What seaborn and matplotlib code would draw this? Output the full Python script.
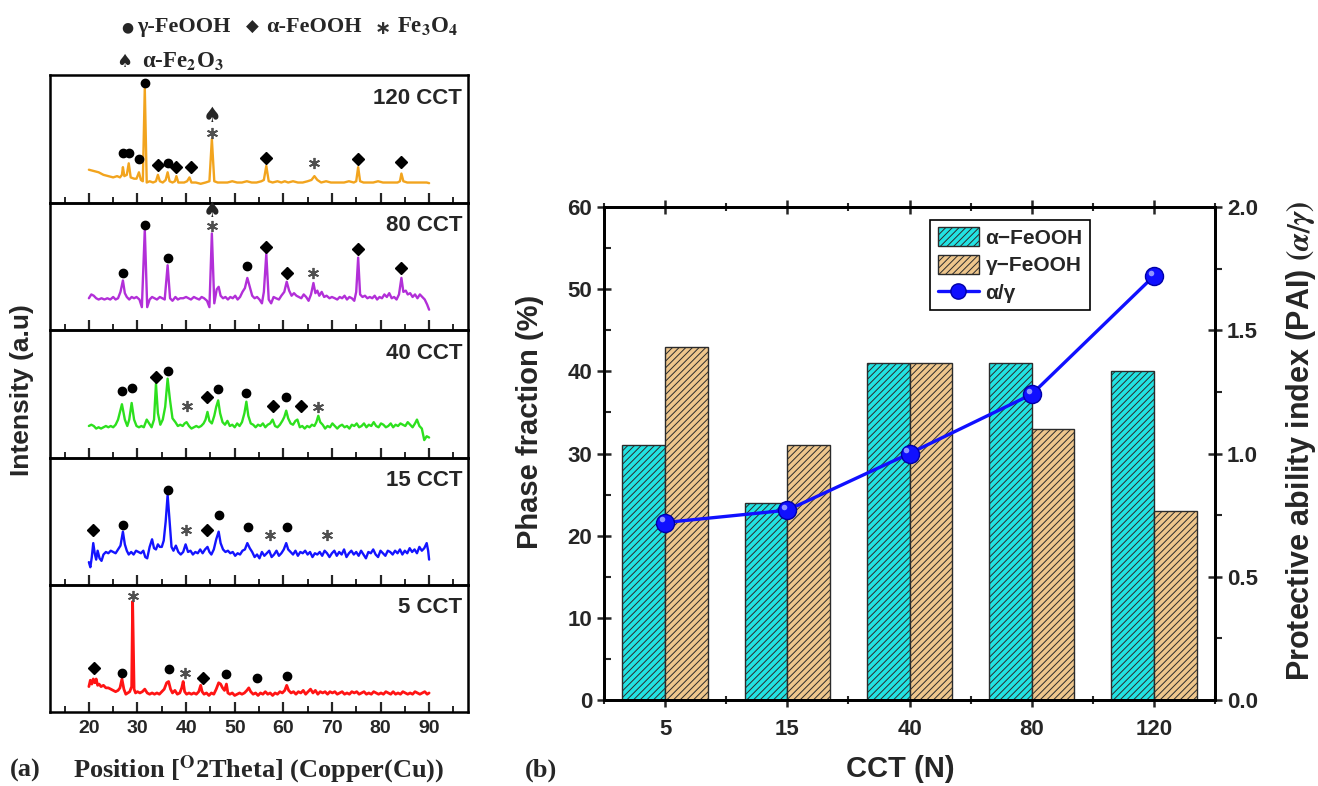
import numpy as np
import pandas as pd
import matplotlib
matplotlib.use("Agg")
import matplotlib.pyplot as plt
import seaborn as sns
from matplotlib.ticker import MultipleLocator
from matplotlib.patches import Patch
from matplotlib.lines import Line2D
from matplotlib.transforms import ScaledTranslation

# ---------------- data ----------------
# XRD patterns (2theta, relative intensity) for each exposure
xrd_120 = [(20.0, 26), (21.0, 25), (22.0, 24), (23.0, 22), (24.0, 21), (25.0, 20), (25.8, 21), (26.4, 20),
           (26.8, 22), (27.0, 28), (27.3, 21), (27.8, 22), (28.2, 31), (28.6, 20), (29.3, 19), (29.8, 19),
           (30.3, 24), (30.7, 18), (31.1, 17), (31.5, 90), (31.9, 16), (32.5, 17), (33.2, 16), (33.8, 17),
           (34.2, 22), (34.6, 17), (35.2, 16), (35.8, 18), (36.2, 24), (36.6, 17), (37.2, 16), (37.7, 17),
           (38.0, 21), (38.4, 16), (39.0, 16), (39.6, 16), (40.2, 17), (40.7, 20), (41.1, 16), (42.0, 16),
           (43.0, 15), (44.0, 16), (44.8, 17), (45.3, 50), (45.8, 17), (46.5, 16), (47.5, 16), (48.5, 16),
           (49.5, 17), (50.5, 16), (51.5, 16), (52.5, 17), (53.5, 16), (54.5, 16), (55.5, 17), (56.0, 18),
           (56.5, 29), (57.0, 17), (57.8, 16), (58.8, 17), (59.6, 16), (60.3, 17), (61.0, 16), (62.0, 17),
           (63.0, 16), (64.0, 16), (65.0, 17), (65.8, 18), (66.4, 21), (67.0, 18), (67.8, 16), (68.8, 17),
           (69.8, 16), (71.0, 16), (72.5, 16), (73.5, 17), (74.5, 16), (75.0, 17), (75.4, 28), (75.8, 17),
           (76.5, 16), (77.5, 16), (78.5, 16), (79.5, 17), (80.5, 16), (81.5, 16), (82.5, 16), (83.5, 16),
           (84.0, 17), (84.3, 23), (84.7, 17), (85.5, 16), (86.5, 16), (87.5, 16), (88.5, 16), (89.5, 16),
           (90.0, 15.5)]

xrd_80 = [(20.0, 25), (20.5, 28), (21.0, 27), (21.5, 25), (22.0, 24), (22.6, 25), (23.2, 24), (23.8, 25),
          (24.4, 24), (25.0, 26), (25.5, 24), (26.0, 25), (26.5, 30), (27.0, 39), (27.4, 29), (27.8, 26),
          (28.3, 24), (28.8, 26), (29.3, 25), (29.8, 26), (30.4, 24), (30.9, 18), (31.5, 79), (32.0, 18),
          (32.5, 24), (33.0, 26), (33.5, 25), (34.0, 24), (34.6, 26), (35.1, 25), (35.6, 24), (36.2, 51),
          (36.7, 25), (37.2, 23), (37.8, 26), (38.3, 24), (38.8, 25), (39.4, 25), (40.0, 26), (40.5, 25),
          (41.0, 24), (41.6, 26), (42.1, 25), (42.7, 24), (43.2, 26), (43.7, 25), (44.3, 23), (44.8, 18),
          (45.3, 76), (45.8, 21), (46.3, 32), (46.7, 34), (47.1, 27), (47.6, 25), (48.1, 26), (48.6, 24),
          (49.1, 26), (49.6, 25), (50.1, 27), (50.6, 24), (51.1, 26), (51.6, 30), (52.1, 33), (52.6, 41),
          (53.1, 34), (53.6, 27), (54.1, 25), (54.6, 26), (55.1, 24), (55.6, 21), (56.0, 30), (56.5, 60),
          (57.0, 24), (57.5, 21), (58.0, 26), (58.5, 25), (59.1, 24), (59.6, 27), (60.2, 30), (60.7, 38),
          (61.2, 31), (61.7, 27), (62.2, 29), (62.7, 27), (63.2, 26), (63.7, 25), (64.2, 28), (64.7, 26),
          (65.2, 23), (65.7, 28), (66.2, 37), (66.6, 29), (67.0, 31), (67.4, 27), (67.9, 30), (68.4, 26),
          (68.9, 27), (69.5, 25), (70.0, 26), (70.6, 25), (71.1, 24), (71.6, 26), (72.1, 25), (72.6, 27),
          (73.1, 24), (73.6, 26), (74.1, 25), (74.6, 23), (75.0, 30), (75.4, 57), (75.8, 28), (76.3, 26),
          (76.8, 27), (77.3, 25), (77.8, 26), (78.3, 25), (78.8, 27), (79.3, 24), (79.8, 26), (80.3, 25),
          (80.8, 28), (81.3, 26), (81.8, 29), (82.3, 25), (82.8, 26), (83.3, 24), (83.8, 28), (84.3, 41),
          (84.7, 30), (85.2, 31), (85.6, 28), (86.1, 29), (86.6, 26), (87.1, 28), (87.6, 25), (88.1, 28),
          (88.6, 26), (89.1, 24), (89.6, 20), (90.0, 16)]

xrd_40 = [(20.0, 25), (20.5, 26), (21.0, 25), (21.5, 23), (22.0, 24), (22.5, 23), (23.0, 24), (23.5, 25),
          (24.0, 24), (24.5, 25), (25.0, 24), (25.5, 26), (26.0, 30), (26.8, 42), (27.4, 30), (27.9, 25),
          (28.3, 30), (28.8, 43), (29.3, 30), (29.8, 25), (30.3, 24), (30.8, 25), (31.3, 24), (31.9, 30),
          (32.4, 27), (32.9, 24), (33.4, 30), (33.8, 58), (34.2, 35), (34.7, 26), (35.2, 30), (35.7, 40),
          (36.2, 62), (36.7, 45), (37.2, 31), (37.8, 28), (38.3, 25), (38.8, 26), (39.3, 25), (39.7, 27),
          (40.1, 28), (40.6, 25), (41.1, 23), (41.6, 24), (42.1, 25), (42.6, 24), (43.1, 25), (43.6, 27),
          (44.0, 30), (44.4, 36), (44.8, 29), (45.3, 27), (45.8, 33), (46.2, 40), (46.6, 45), (47.0, 35),
          (47.5, 28), (48.0, 26), (48.5, 29), (49.0, 25), (49.5, 26), (50.0, 24), (50.5, 27), (51.0, 25),
          (51.5, 28), (52.0, 35), (52.4, 44), (52.8, 33), (53.3, 27), (53.8, 26), (54.3, 24), (54.8, 26),
          (55.3, 25), (55.8, 27), (56.3, 24), (56.8, 26), (57.3, 27), (57.8, 30), (58.3, 25), (58.8, 24),
          (59.3, 26), (59.8, 29), (60.2, 32), (60.6, 37), (61.0, 31), (61.5, 27), (62.0, 26), (62.5, 29),
          (62.9, 30), (63.4, 24), (63.9, 25), (64.4, 23), (64.9, 25), (65.4, 24), (65.9, 26), (66.4, 25),
          (66.8, 28), (67.2, 33), (67.6, 28), (68.1, 26), (68.6, 23), (69.1, 25), (69.6, 24), (70.1, 27),
          (70.6, 25), (71.1, 23), (71.6, 25), (72.1, 26), (72.6, 24), (73.1, 25), (73.6, 23), (74.1, 26),
          (74.6, 25), (75.1, 27), (75.6, 24), (76.1, 25), (76.6, 27), (77.1, 24), (77.6, 26), (78.1, 25),
          (78.6, 28), (79.1, 25), (79.6, 24), (80.1, 27), (80.6, 26), (81.1, 24), (81.6, 25), (82.1, 27),
          (82.6, 24), (83.1, 26), (83.6, 25), (84.1, 27), (84.6, 26), (85.1, 25), (85.6, 28), (86.1, 26),
          (86.6, 24), (87.1, 27), (87.5, 30), (88.0, 25), (88.5, 23), (89.0, 14), (89.5, 17), (90.0, 16)]

xrd_15 = [(20.0, 18), (20.3, 14), (20.6, 22), (20.9, 33), (21.2, 25), (21.5, 20), (21.8, 27), (22.2, 21),
          (22.6, 19), (23.0, 24), (23.5, 26), (24.0, 25), (24.5, 27), (25.0, 26), (25.5, 25), (26.0, 28),
          (26.5, 31), (27.0, 42), (27.4, 32), (27.8, 27), (28.2, 24), (28.7, 26), (29.2, 24), (29.7, 27),
          (30.2, 26), (30.7, 25), (31.2, 27), (31.6, 22), (32.0, 21), (32.5, 30), (33.0, 36), (33.4, 29),
          (33.8, 28), (34.2, 32), (34.6, 30), (35.0, 30), (35.4, 35), (35.8, 50), (36.2, 71), (36.6, 50),
          (37.0, 30), (37.4, 27), (37.9, 31), (38.4, 26), (38.9, 24), (39.4, 26), (39.9, 32), (40.4, 26),
          (40.9, 27), (41.4, 24), (41.9, 26), (42.4, 25), (42.9, 28), (43.4, 25), (43.9, 28), (44.4, 30),
          (44.8, 26), (45.2, 24), (45.7, 28), (46.2, 36), (46.7, 42), (47.1, 33), (47.6, 28), (48.1, 26),
          (48.6, 27), (49.1, 25), (49.6, 26), (50.1, 23), (50.6, 25), (51.1, 24), (51.6, 27), (52.1, 28),
          (52.6, 33), (53.1, 29), (53.6, 26), (54.1, 22), (54.6, 24), (55.1, 21), (55.6, 26), (56.1, 23),
          (56.6, 25), (57.1, 27), (57.6, 22), (58.1, 24), (58.6, 27), (59.1, 23), (59.6, 25), (60.1, 28),
          (60.6, 33), (61.0, 28), (61.5, 26), (62.0, 24), (62.5, 27), (63.0, 23), (63.5, 26), (64.0, 25),
          (64.5, 27), (65.0, 24), (65.5, 26), (66.0, 22), (66.5, 25), (67.0, 24), (67.5, 26), (68.0, 23),
          (68.5, 27), (69.0, 25), (69.5, 22), (70.0, 25), (70.5, 27), (71.0, 23), (71.5, 26), (72.0, 24),
          (72.5, 28), (73.0, 22), (73.5, 25), (74.0, 27), (74.5, 24), (75.0, 26), (75.5, 23), (76.0, 27),
          (76.5, 24), (77.0, 21), (77.5, 26), (78.0, 25), (78.5, 28), (79.0, 24), (79.5, 22), (80.0, 27),
          (80.5, 25), (81.0, 23), (81.5, 27), (82.0, 26), (82.5, 24), (83.0, 27), (83.5, 25), (84.0, 28),
          (84.5, 24), (85.0, 27), (85.5, 25), (86.0, 29), (86.5, 26), (87.0, 28), (87.5, 25), (88.0, 30),
          (88.5, 27), (89.0, 29), (89.5, 33), (89.8, 27), (90.0, 20)]

xrd_5 = [(20.0, 20), (20.3, 25), (20.6, 22), (20.9, 26), (21.2, 23), (21.5, 26), (21.8, 21), (22.1, 22),
         (22.5, 20), (23.0, 21), (23.5, 19), (24.0, 19), (24.5, 18), (25.0, 17), (25.5, 16), (26.0, 17),
         (26.4, 19), (26.8, 26), (27.2, 18), (27.6, 14), (28.0, 15), (28.4, 16), (28.8, 20), (29.0, 87),
         (29.3, 18), (29.6, 15), (30.0, 16), (30.5, 15), (31.0, 16), (31.5, 18), (32.0, 15), (32.5, 14),
         (33.0, 15), (33.5, 14), (34.0, 15), (34.5, 14), (35.0, 16), (35.5, 18), (36.0, 23), (36.4, 24),
         (36.8, 18), (37.2, 15), (37.7, 17), (38.2, 14), (38.7, 15), (39.1, 19), (39.4, 24), (39.7, 16),
         (40.1, 14), (40.6, 15), (41.1, 14), (41.6, 15), (42.1, 14), (42.6, 16), (43.0, 21), (43.3, 16),
         (43.7, 14), (44.2, 15), (44.7, 13), (45.2, 15), (45.7, 14), (46.2, 18), (46.7, 23), (47.1, 22),
         (47.5, 19), (47.9, 17), (48.3, 22), (48.6, 15), (49.0, 14), (49.5, 15), (50.0, 13), (50.5, 14),
         (51.0, 15), (51.5, 14), (52.0, 15), (52.5, 17), (52.9, 19), (53.3, 16), (53.8, 14), (54.3, 15),
         (54.8, 13), (55.3, 15), (55.8, 14), (56.3, 16), (56.8, 14), (57.3, 15), (57.8, 13), (58.3, 15),
         (58.8, 14), (59.3, 16), (59.8, 15), (60.3, 17), (60.7, 21), (61.1, 17), (61.6, 15), (62.1, 16),
         (62.6, 14), (63.1, 16), (63.6, 15), (64.1, 17), (64.6, 14), (65.1, 16), (65.6, 18), (66.1, 15),
         (66.6, 17), (67.1, 14), (67.6, 16), (68.1, 15), (68.6, 16), (69.1, 14), (69.6, 16), (70.1, 15),
         (70.6, 16), (71.1, 14), (71.6, 15), (72.1, 16), (72.6, 14), (73.1, 15), (73.6, 14), (74.1, 16),
         (74.6, 15), (75.1, 16), (75.6, 14), (76.1, 15), (76.6, 16), (77.1, 14), (77.6, 15), (78.1, 14),
         (78.6, 16), (79.1, 15), (79.6, 14), (80.1, 15), (80.6, 14), (81.1, 16), (81.6, 15), (82.1, 14),
         (82.6, 16), (83.1, 14), (83.6, 15), (84.1, 14), (84.6, 16), (85.1, 15), (85.6, 14), (86.1, 15),
         (86.6, 14), (87.1, 16), (87.6, 15), (88.1, 14), (88.6, 15), (89.1, 16), (89.6, 14), (90.0, 15)]

# phase identification marks: (2theta, height, phase)
# g = gamma-FeOOH, a = alpha-FeOOH, m = Fe3O4, h = alpha-Fe2O3
marks_120 = [(27.0, 39, "g"), (28.2, 39, "g"), (30.3, 34, "g"), (31.5, 94, "g"), (34.2, 30, "a"),
             (36.3, 31, "g"), (37.9, 28, "a"), (41.0, 28, "a"), (45.3, 55, "m"), (45.3, 68, "h"),
             (56.5, 35, "a"), (66.4, 31, "m"), (75.4, 34, "a"), (84.3, 32, "a")]
marks_80 = [(27.0, 45, "g"), (31.5, 83, "g"), (36.2, 57, "g"), (45.3, 82, "m"), (45.3, 94, "h"),
            (52.6, 50, "g"), (56.5, 65, "a"), (60.7, 45, "a"), (66.2, 45, "m"), (75.4, 64, "a"),
            (84.3, 49, "a")]
marks_40 = [(26.8, 52, "g"), (28.8, 55, "g"), (33.8, 63, "a"), (36.2, 68, "g"), (40.1, 41, "m"),
            (44.4, 48, "a"), (46.6, 54, "g"), (52.4, 51, "g"), (57.8, 41, "a"), (60.6, 48, "g"),
            (63.7, 41, "a"), (67.2, 40, "m")]
marks_15 = [(20.8, 43, "a"), (27.0, 47, "g"), (36.2, 75, "g"), (39.9, 43, "m"), (44.4, 43, "a"),
            (46.7, 55, "g"), (52.8, 46, "g"), (57.2, 39, "m"), (60.7, 46, "g"), (68.9, 39, "m")]
marks_5 = [(21.0, 35, "a"), (26.8, 31, "g"), (29.0, 91, "m"), (36.4, 34, "g"), (39.7, 31, "m"),
           (43.4, 27, "a"), (48.3, 30, "g"), (54.5, 27, "g"), (60.7, 28, "g")]

panel_labels = ["120 CCT", "80 CCT", "40 CCT", "15 CCT", "5 CCT"]
panel_colors = ["#f2a41e", "#b22fd8", "#2de01e", "#1414ff", "#ff1414"]
panel_data = [xrd_120, xrd_80, xrd_40, xrd_15, xrd_5]
panel_marks = [marks_120, marks_80, marks_40, marks_15, marks_5]

# phase fractions and protective ability index
cct_labels = ["5", "15", "40", "80", "120"]
alpha_feooh = [31, 24, 41, 41, 40]
gamma_feooh = [43, 31, 41, 33, 23]
pai = [0.72, 0.77, 1.00, 1.24, 1.72]

# ---------------- style ----------------
sns.set_theme(style="ticks")
plt.rcParams["font.family"] = ["Liberation Sans", "DejaVu Sans"]
plt.rcParams["font.weight"] = "bold"
plt.rcParams["axes.labelweight"] = "bold"
plt.rcParams["mathtext.fontset"] = "stix"
plt.rcParams["hatch.linewidth"] = 0.7
SERIF = ["Liberation Serif", "DejaVu Serif"]

W, H = 1318, 786
fig = plt.figure(figsize=(W / 100, H / 100), dpi=100)
fig.patch.set_facecolor("white")

# ---------------- (a) stacked XRD patterns ----------------
edges = [75, 203, 330, 458, 585, 712]
for i in range(5):
    top, bot = edges[i], edges[i + 1]
    ax = fig.add_axes([50 / W, 1 - bot / H, 418 / W, (bot - top) / H])
    ax.set_facecolor("none")
    df = pd.DataFrame(panel_data[i], columns=["theta", "intensity"])
    sns.lineplot(data=df, x="theta", y="intensity", sort=False, estimator=None,
                 color=panel_colors[i], lw=2.0 if i == 4 else 1.7, ax=ax)
    ax.set_xlim(12, 98)
    ax.set_ylim(0, 100)
    ax.set_xlabel("")
    ax.set_ylabel("")
    ax.set_yticks([])
    ax.xaxis.set_minor_locator(MultipleLocator(5))
    ax.set_xticks([20, 30, 40, 50, 60, 70, 80, 90])
    ax.tick_params(axis="x", which="major", direction="in", length=7, width=1.6,
                   labelsize=14, pad=6, labelbottom=(i == 4))
    ax.tick_params(axis="x", which="minor", direction="in", length=4, width=1.4)
    for sp in ax.spines.values():
        sp.set_linewidth(1.8)
        sp.set_color("black")
    ax.text(0.986, 0.82, panel_labels[i], transform=ax.transAxes, ha="right", va="center",
            fontsize=16, fontweight="bold")
    for x, y, ph in panel_marks[i]:
        if ph == "g":
            ax.plot(x, y, "o", color="black", ms=6, clip_on=False, zorder=5)
        elif ph == "a":
            ax.plot(x, y, "D", color="black", ms=6, clip_on=False, zorder=5)
        elif ph == "m":
            ax.plot(x, y, marker=(6, 2, 0), color="#505050", ms=8, mew=1.3, ls="none",
                    clip_on=False, zorder=5)
        else:
            ax.text(x, y, "\u2660", ha="center", va="center", fontsize=15,
                    family="DejaVu Sans", clip_on=False, zorder=6)

fig.text(22 / W, 1 - 390 / H, "Intensity (a.u)", rotation=90, ha="center", va="center",
         fontsize=19, fontweight="bold")

# phase key above the patterns
key_y1 = 1 - 27 / H
key_y2 = 1 - 62 / H
fig.text(127 / W, key_y1, "\u25CF", ha="center", va="center", fontsize=10, family="DejaVu Sans")
fig.text(137 / W, key_y1, "\u03B3-FeOOH", ha="left", va="center", fontsize=16,
         fontweight="bold", family=SERIF)
fig.text(252 / W, key_y1, "\u25C6", ha="center", va="center", fontsize=12, family="DejaVu Sans")
fig.text(266 / W, key_y1, "\u03B1-FeOOH", ha="left", va="center", fontsize=16,
         fontweight="bold", family=SERIF)
fig.text(383 / W, key_y1 - 0.002, "\u2217", ha="center", va="center", fontsize=14,
         family="DejaVu Sans", color="#303030")
fig.text(397 / W, key_y1, r"Fe$_{\mathbf{3}}$O$_{\mathbf{4}}$", ha="left", va="center",
         fontsize=16.5, fontweight="bold", family=SERIF)
fig.text(124 / W, key_y2, "\u2660", ha="center", va="center", fontsize=13, family="DejaVu Sans")
fig.text(142 / W, key_y2, "\u03B1-Fe$_{\\mathbf{2}}$O$_{\\mathbf{3}}$",
         ha="left", va="center", fontsize=16.5, fontweight="bold", family=SERIF)

fig.text(10 / W, 1 - 770 / H, "(a)", ha="left", va="center", fontsize=19,
         fontweight="bold", family=SERIF)
fig.text(73 / W, 1 - 770 / H, r"Position [$^{\mathbf{O}}$2Theta] (Copper(Cu))", ha="left",
         va="center", fontsize=19, fontweight="bold", family=SERIF)

# ---------------- (b) phase fractions and PAI ----------------
cyan = "#22e3e3"
tan = "#eec68c"
edge = "#2b2b2b"
blue = "#1010ff"

bx = fig.add_axes([604 / W, 1 - 700 / H, 611 / W, 493 / H])
bars = pd.DataFrame({
    "CCT": cct_labels * 2,
    "phase": ["\u03B1\u2212FeOOH"] * len(cct_labels) + ["\u03B3\u2212FeOOH"] * len(cct_labels),
    "fraction": alpha_feooh + gamma_feooh,
})
sns.barplot(data=bars, x="CCT", y="fraction", hue="phase", order=cct_labels,
            hue_order=["\u03B1\u2212FeOOH", "\u03B3\u2212FeOOH"], palette=[cyan, tan],
            width=0.7, saturation=1, edgecolor=edge, linewidth=1.0, legend=False, ax=bx)
for cont in bx.containers:
    for bar in cont:
        bar.set_hatch("/////")
        bar.set_edgecolor(edge)

bx.set_xlim(-0.5, 4.5)
bx.set_ylim(0, 60)
bx.yaxis.set_major_locator(MultipleLocator(10))
bx.yaxis.set_minor_locator(MultipleLocator(5))
bx.xaxis.set_minor_locator(MultipleLocator(0.5))
bx.tick_params(axis="both", which="major", direction="inout", length=10, width=1.8,
               labelsize=16, top=True)
bx.tick_params(axis="x", which="major", pad=9)
bx.tick_params(axis="both", which="minor", direction="in", length=5, width=1.5, top=True)
bx.tick_params(axis="x", which="minor", direction="inout", length=6)
for lab in bx.get_xticklabels() + bx.get_yticklabels():
    lab.set_fontweight("bold")
bx.set_xlabel("CCT (N)", fontsize=21, fontweight="bold")
bx.set_ylabel("Phase fraction (%)", fontsize=21, fontweight="bold")
bx.xaxis.set_label_coords(0.485, -0.112)
bx.yaxis.set_label_coords(-0.098, 0.565)
for sp in bx.spines.values():
    sp.set_linewidth(2.0)
    sp.set_color("black")

px = bx.twinx()
x_pos = np.arange(len(cct_labels))
sns.lineplot(x=x_pos, y=pai, color=blue, lw=2.4, marker="o",
             markersize=13, markeredgecolor="#0000a8", markeredgewidth=1.0, ax=px)
# glossy highlight on the sphere markers
shine = px.transData + ScaledTranslation(-2.2 / 72, 2.2 / 72, fig.dpi_scale_trans)
px.plot(x_pos, pai, "o", ms=4, color="#9fa6ff", mec="none", alpha=0.9, transform=shine, zorder=4)
px.set_ylim(0, 2.0)
px.yaxis.set_major_locator(MultipleLocator(0.5))
px.yaxis.set_minor_locator(MultipleLocator(0.25))
px.tick_params(axis="y", which="major", direction="inout", length=10, width=1.8, labelsize=16)
px.tick_params(axis="y", which="minor", direction="out", length=5, width=1.5)
px.set_yticks([0.0, 0.5, 1.0, 1.5, 2.0])
px.set_yticklabels(["0.0", "0.5", "1.0", "1.5", "2.0"], fontweight="bold")
px.set_ylabel(r"Protective ability index (PAI) $(\alpha/\gamma)$", fontsize=22, fontweight="bold")
px.yaxis.set_label_coords(1.113, 0.525)
for sp in px.spines.values():
    sp.set_linewidth(2.0)
    sp.set_color("black")

handles = [
    Patch(facecolor=cyan, edgecolor=edge, hatch="/////", label="\u03B1\u2212FeOOH"),
    Patch(facecolor=tan, edgecolor=edge, hatch="/////", label="\u03B3\u2212FeOOH"),
    Line2D([], [], color=blue, lw=2.4, marker="o", markersize=11, markeredgecolor="#0000a8",
           label="\u03B1/\u03B3"),
]
leg = px.legend(handles=handles, loc="upper left", bbox_to_anchor=(0.534, 0.974),
                frameon=True, fancybox=False, edgecolor="black", fontsize=15,
                handlelength=2.0, handleheight=1.0, borderpad=0.35, labelspacing=0.35,
                handletextpad=0.3, borderaxespad=0, framealpha=1)
leg.get_frame().set_linewidth(1.2)
for t in leg.get_texts():
    t.set_fontweight("bold")

fig.text(525 / W, 1 - 770 / H, "(b)", ha="left", va="center", fontsize=19,
         fontweight="bold", family=SERIF)

fig.savefig("out.png", dpi=100, facecolor="white")
